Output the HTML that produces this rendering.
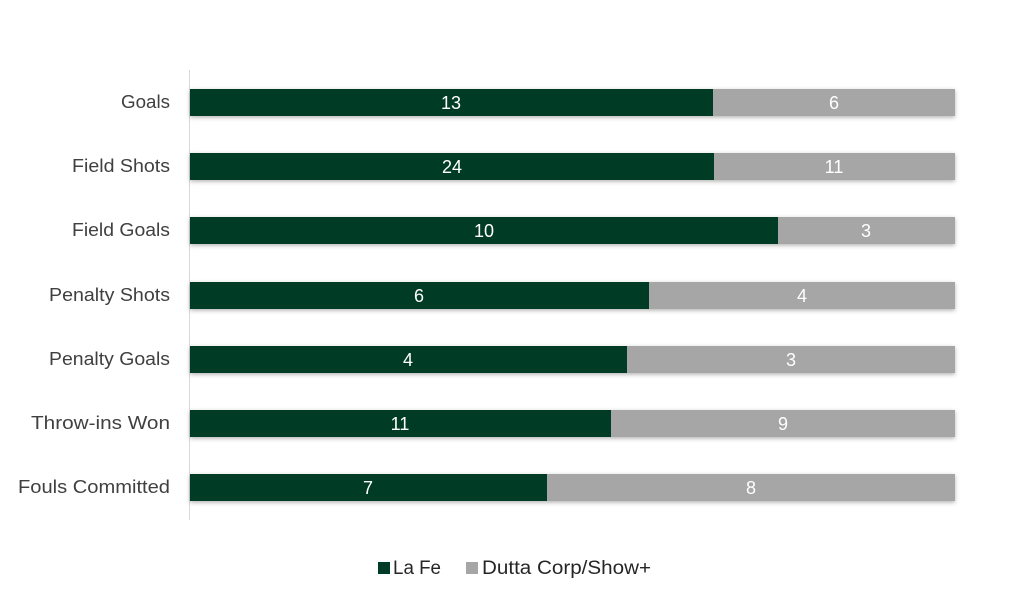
<!DOCTYPE html>
<html><head><style>body{margin:0;background:#fff}svg{display:block}</style></head><body>
<svg width="1024" height="606" xmlns="http://www.w3.org/2000/svg" font-family="Liberation Sans, sans-serif">
<defs><filter id="sh" x="-5%" y="-50%" width="110%" height="200%"><feDropShadow dx="0" dy="1.5" stdDeviation="2" flood-color="#000" flood-opacity="0.3"/></filter></defs>
<line x1="189.5" y1="70" x2="189.5" y2="520" stroke="#d9d9d9" stroke-width="1"/>
<g font-size="18.5" fill="#404040" text-anchor="end" lengthAdjust="spacingAndGlyphs">
<text x="170" y="108" textLength="49" lengthAdjust="spacingAndGlyphs">Goals</text>
<text x="170" y="172" textLength="98" lengthAdjust="spacingAndGlyphs">Field Shots</text>
<text x="170" y="236" textLength="98" lengthAdjust="spacingAndGlyphs">Field Goals</text>
<text x="170" y="301" textLength="121" lengthAdjust="spacingAndGlyphs">Penalty Shots</text>
<text x="170" y="365" textLength="121" lengthAdjust="spacingAndGlyphs">Penalty Goals</text>
<text x="170" y="429" textLength="139" lengthAdjust="spacingAndGlyphs">Throw-ins Won</text>
<text x="170" y="493" textLength="152" lengthAdjust="spacingAndGlyphs">Fouls Committed</text>
</g>
<g filter="url(#sh)">
<rect x="190" y="89" width="523" height="27" fill="#003a28"/><rect x="713" y="89" width="242" height="27" fill="#a6a6a6"/>
<rect x="190" y="153" width="524" height="27" fill="#003a28"/><rect x="714" y="153" width="241" height="27" fill="#a6a6a6"/>
<rect x="190" y="217" width="588" height="27" fill="#003a28"/><rect x="778" y="217" width="177" height="27" fill="#a6a6a6"/>
<rect x="190" y="282" width="459" height="27" fill="#003a28"/><rect x="649" y="282" width="306" height="27" fill="#a6a6a6"/>
<rect x="190" y="346" width="437" height="27" fill="#003a28"/><rect x="627" y="346" width="328" height="27" fill="#a6a6a6"/>
<rect x="190" y="410" width="421" height="27" fill="#003a28"/><rect x="611" y="410" width="344" height="27" fill="#a6a6a6"/>
<rect x="190" y="474" width="357" height="27" fill="#003a28"/><rect x="547" y="474" width="408" height="27" fill="#a6a6a6"/>
</g>
<g font-size="18" fill="#fff" text-anchor="middle">
<text x="451" y="109">13</text><text x="834" y="109">6</text>
<text x="452" y="173">24</text><text x="834" y="173">11</text>
<text x="484" y="237">10</text><text x="866" y="237">3</text>
<text x="419" y="302">6</text><text x="802" y="302">4</text>
<text x="408" y="366">4</text><text x="791" y="366">3</text>
<text x="400" y="430">11</text><text x="783" y="430">9</text>
<text x="368" y="494">7</text><text x="751" y="494">8</text>
</g>
<rect x="378" y="562" width="12" height="12" fill="#003a28"/>
<text x="393" y="574" font-size="19" fill="#262626" textLength="48" lengthAdjust="spacingAndGlyphs">La Fe</text>
<rect x="466" y="562" width="12" height="12" fill="#a6a6a6"/>
<text x="482" y="574" font-size="19" fill="#262626" textLength="169" lengthAdjust="spacingAndGlyphs">Dutta Corp/Show+</text>
</svg>
</body></html>
